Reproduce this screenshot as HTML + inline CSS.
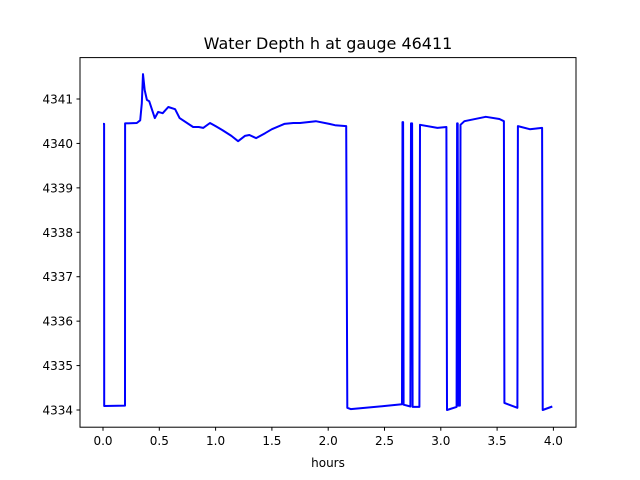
<!DOCTYPE html>
<html><head><meta charset="utf-8"><style>
body{margin:0;background:#fff;}
svg{display:block;font-family:"DejaVu Sans","Liberation Sans",sans-serif;}
</style></head><body>
<svg id="chart" width="640" height="480" viewBox="0 0 640 480">
<rect width="640" height="480" fill="#fff"/>
<text x="328" y="49" font-size="16" text-anchor="middle">Water Depth h at gauge 46411</text>
<g id="xticks"></g><g id="yticks"></g>
<path id="line" fill="none" stroke="#0000ff" stroke-width="2" stroke-linejoin="round"/>
<rect x="80" y="57.6" width="496" height="369.6" fill="none" stroke="#000" stroke-width="1"/>
<text x="328" y="467" font-size="12" text-anchor="middle">hours</text>
</svg>
<script>
const hours=[0,0.01,0.011,0.195,0.196,0.30,0.33,0.345,0.355,0.37,0.39,0.41,0.46,0.49,0.53,0.58,0.64,0.68,0.80,0.85,0.89,0.95,1.0,1.06,1.14,1.2,1.26,1.3,1.36,1.44,1.5,1.61,1.69,1.75,1.89,2.01,2.06,2.16,2.17,2.2,2.5,2.655,2.66,2.665,2.67,2.73,2.735,2.745,2.75,2.81,2.815,2.97,3.05,3.055,3.14,3.145,3.15,3.155,3.17,3.175,3.21,3.4,3.52,3.56,3.565,3.68,3.685,3.79,3.9,3.905,3.99];
const depth=[4340.44,4340.44,4334.09,4334.1,4340.45,4340.46,4340.52,4340.9,4341.56,4341.2,4340.98,4340.95,4340.57,4340.71,4340.68,4340.82,4340.77,4340.57,4340.37,4340.37,4340.35,4340.46,4340.39,4340.3,4340.17,4340.05,4340.17,4340.19,4340.12,4340.23,4340.32,4340.44,4340.46,4340.46,4340.5,4340.44,4340.41,4340.39,4334.05,4334.02,4334.09,4334.13,4340.48,4340.48,4334.12,4334.08,4340.45,4340.45,4334.07,4334.07,4340.42,4340.35,4340.37,4334.0,4334.07,4340.45,4340.45,4334.1,4334.1,4340.42,4340.5,4340.6,4340.55,4340.5,4334.16,4334.05,4340.39,4340.32,4340.35,4334.0,4334.08];
const xTicks=[0,0.5,1,1.5,2,2.5,3,3.5,4];
const yTicks=[4334,4335,4336,4337,4338,4339,4340,4341];
const X=t=>103+112.6*t;
const Y=h=>99+(4341-h)*44.43;
const NS="http://www.w3.org/2000/svg";
let d="";
for(let i=0;i<hours.length;i++){d+=(i?"L":"M")+X(hours[i]).toFixed(1)+","+Y(depth[i]).toFixed(1);}
document.getElementById('line').setAttribute('d',d);
const xg=document.getElementById('xticks'),yg=document.getElementById('yticks');
xTicks.forEach(v=>{
 const l=document.createElementNS(NS,'line');
 l.setAttribute('x1',X(v));l.setAttribute('x2',X(v));l.setAttribute('y1',427.2);l.setAttribute('y2',430.7);l.setAttribute('stroke','#000');
 
 
 xg.appendChild(l);
 const t=document.createElementNS(NS,'text');
 t.setAttribute('x',X(v));t.setAttribute('y',445);t.setAttribute('font-size','12');t.setAttribute('text-anchor','middle');
 t.textContent=v.toFixed(1);
 
 
 xg.appendChild(t);
});
yTicks.forEach(v=>{
 const l=document.createElementNS(NS,'line');
 l.setAttribute('x1',76.5);l.setAttribute('x2',80);l.setAttribute('y1',Y(v));l.setAttribute('y2',Y(v));l.setAttribute('stroke','#000');
 
 
 yg.appendChild(l);
 const t=document.createElementNS(NS,'text');
 t.setAttribute('x',73);t.setAttribute('y',Y(v)+4.5);t.setAttribute('font-size','12');t.setAttribute('text-anchor','end');
 t.textContent=v;
 
 
 yg.appendChild(t);
});
</script>
</body></html>
